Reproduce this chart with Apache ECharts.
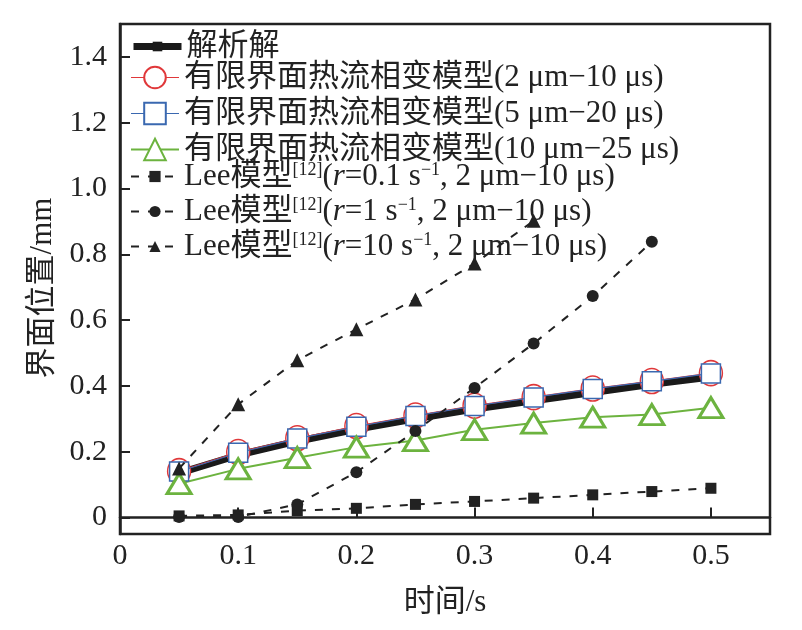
<!DOCTYPE html>
<html>
<head>
<meta charset="utf-8">
<script src="https://cdn.jsdelivr.net/npm/echarts@6/dist/echarts.min.js"></script>
<style>
  html, body { margin: 0; padding: 0; background: #fff; }
  #chart { width: 802px; height: 630px; }
</style>
</head>
<body>
<div id="chart"></div>
<script>
// 时间/s
const times = [0.05, 0.1, 0.15, 0.2, 0.25, 0.3, 0.35, 0.4, 0.45, 0.5];

// 界面位置/mm
const analytic = [0.135, 0.19, 0.232, 0.268, 0.3, 0.33, 0.355, 0.38, 0.405, 0.427];
const model2um = [0.141, 0.199, 0.241, 0.278, 0.31, 0.34, 0.366, 0.392, 0.415, 0.439];
const model5um = [0.14, 0.197, 0.24, 0.276, 0.309, 0.339, 0.365, 0.391, 0.414, 0.438];
const model10um = [0.103, 0.148, 0.182, 0.214, 0.234, 0.267, 0.287, 0.305, 0.313, 0.334];
const leeR01 = [0.005, 0.008, 0.021, 0.028, 0.04, 0.049, 0.059, 0.069, 0.079, 0.089];
const leeR1 = [0.002, 0.002, 0.04, 0.138, 0.263, 0.394, 0.529, 0.673, 0.838];
const leeR10 = [0.149, 0.344, 0.478, 0.572, 0.663, 0.772, 0.902];

const yTicks = [0, 0.2, 0.4, 0.6, 0.8, 1.0, 1.2, 1.4];
const xTicks = [0, 0.1, 0.2, 0.3, 0.4, 0.5];

const names = [
  '解析解',
  '有限界面热流相变模型(2 μm−10 μs)',
  '有限界面热流相变模型(5 μm−20 μs)',
  '有限界面热流相变模型(10 μm−25 μs)',
  'Lee模型[12](r=0.1 s-1, 2 μm−10 μs)',
  'Lee模型[12](r=1 s-1, 2 μm−10 μs)',
  'Lee模型[12](r=10 s-1, 2 μm−10 μs)'
];
const legendText = {};
legendText[names[4]] = 'Lee模型{sup|[12]}({it|r}=0.1 s{sup|−1}, 2 μm−10 μs)';
legendText[names[5]] = 'Lee模型{sup|[12]}({it|r}=1 s{sup|−1}, 2 μm−10 μs)';
legendText[names[6]] = 'Lee模型{sup|[12]}({it|r}=10 s{sup|−1}, 2 μm−10 μs)';

const FONT = '"Liberation Serif", "Noto Sans CJK SC", serif';
const INK = '#222';

function pts(vals) {
  return vals.map((v, i) => [times[i], v]);
}

const legendTextStyle = {
  fontSize: 31,
  fontFamily: FONT,
  color: INK,
  lineHeight: 30,
  rich: {
    sup: { fontSize: 18, fontFamily: FONT, color: INK, verticalAlign: 'top', lineHeight: 18, padding: [0, 0, 10, 0] },
    it: { fontSize: 31, fontFamily: FONT, color: INK, fontStyle: 'italic', lineHeight: 30 }
  }
};

function legendBox(data, top, itemHeight, gap) {
  return {
    orient: 'vertical',
    left: 130,
    top: top,
    padding: 0,
    itemWidth: 48,
    itemHeight: itemHeight,
    itemGap: gap,
    data: data,
    lineStyle: { width: 'inherit' },
    textStyle: legendTextStyle,
    formatter: name => legendText[name] || name
  };
}

const chart = echarts.init(document.getElementById('chart'));

function leeSeries(name, vals, symbol, size) {
  return {
    name: name,
    type: 'line',
    data: pts(vals),
    symbol: symbol,
    symbolSize: size,
    z: 5,
    lineStyle: { color: INK, width: 2, type: [8, 9] },
    itemStyle: { color: INK }
  };
}

chart.setOption({
  animation: false,
  grid: {
    left: 120, right: 32, top: 24, bottom: 96,
    show: true, borderColor: INK, borderWidth: 2.5
  },
  legend: [
    legendBox([names[0]], 31, 12, 2),
    legendBox([names[1], names[2], names[3]], 62, 27, 5),
    legendBox([names[4], names[5], names[6]], 161, 14, 4)
  ],
  xAxis: {
    type: 'value',
    min: 0,
    max: 0.55,
    name: '时间/s',
    nameLocation: 'middle',
    nameGap: 53,
    nameTextStyle: { fontSize: 31, fontFamily: FONT, color: INK },
    axisLine: { lineStyle: { color: INK, width: 2.5 } },
    axisTick: { inside: true, length: 10, lineStyle: { color: INK, width: 2 }, customValues: xTicks.slice(1) },
    axisLabel: {
      fontSize: 30, fontFamily: FONT, color: INK, margin: 7,
      customValues: xTicks,
      formatter: v => (v === 0 ? '0' : v.toFixed(1))
    },
    splitLine: { show: false }
  },
  yAxis: {
    type: 'value',
    min: -0.05,
    max: 1.5,
    name: '界面位置/mm',
    nameLocation: 'middle',
    nameGap: 62,
    nameTextStyle: { fontSize: 31, fontFamily: FONT, color: INK, padding: [0, 18, 0, 0] },
    axisLine: { lineStyle: { color: INK, width: 2.5 } },
    axisTick: { inside: true, length: 10, lineStyle: { color: INK, width: 2 }, customValues: yTicks },
    axisLabel: {
      fontSize: 30, fontFamily: FONT, color: INK, margin: 13,
      customValues: yTicks,
      formatter: v => (v === 0 ? '0' : v.toFixed(1))
    },
    splitLine: { show: false }
  },
  series: [
    {
      name: names[0],
      type: 'line',
      data: pts(analytic),
      symbol: 'rect',
      symbolSize: 8,
      z: 2,
      lineStyle: { color: '#1a1a1a', width: 7 },
      itemStyle: { color: '#1a1a1a' }
    },
    {
      name: names[1],
      type: 'line',
      data: pts(model2um),
      symbol: 'circle',
      symbolSize: [23, 25],
      z: 3,
      lineStyle: { color: '#e0383a', width: 1.2 },
      itemStyle: { color: '#fff', borderColor: '#e0383a', borderWidth: 1.5 }
    },
    {
      name: names[2],
      type: 'line',
      data: pts(model5um),
      symbol: 'rect',
      symbolSize: 19,
      z: 4,
      lineStyle: { color: '#3a68b0', width: 1.2 },
      itemStyle: { color: '#fff', borderColor: '#3a68b0', borderWidth: 1.5 }
    },
    {
      name: names[3],
      type: 'line',
      data: pts(model10um),
      symbol: 'triangle',
      symbolSize: [24, 20],
      z: 4,
      lineStyle: { color: '#6cb33f', width: 2 },
      itemStyle: { color: '#fff', borderColor: '#6cb33f', borderWidth: 3 }
    },
    leeSeries(names[4], leeR01, 'rect', 11),
    leeSeries(names[5], leeR1, 'circle', 12),
    leeSeries(names[6], leeR10, 'triangle', 14)
  ]
});
</script>
</body>
</html>
